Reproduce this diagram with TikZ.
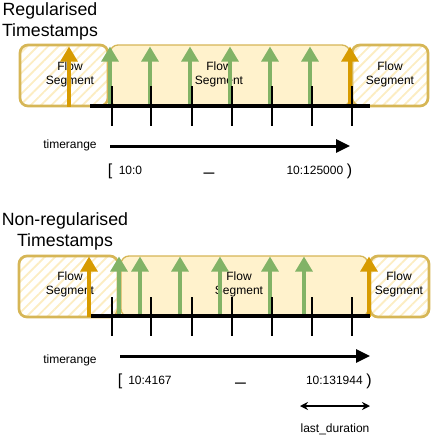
\documentclass[tikz,border=0pt]{standalone}
\usepackage{fontspec}
\setmainfont{Liberation Sans}
\usetikzlibrary{arrows.meta,patterns.meta,positioning}
\definecolor{segF}{HTML}{FFF2CC}
\definecolor{segD}{HTML}{D6B656}
\definecolor{tsG}{HTML}{82B366}
\definecolor{tsO}{HTML}{D79B00}

\begin{document}
\begin{tikzpicture}[x=0.75pt,y=-0.75pt,
  seg/.style={draw=segD,fill=segF,line width=1pt,rounded corners=6pt,inner sep=0pt,minimum height=45.75pt},
  hseg/.style={draw=segD,line width=2pt,rounded corners=6pt,inner sep=0pt,minimum height=45.75pt,
    pattern={Lines[angle=45,distance=5.5pt,line width=1.4pt]},pattern color=segF!92!segD},
  lbl/.style={align=center,inner sep=0pt,font=\fontsize{9}{10.5}\selectfont},
  ttl/.style={align=center,inner sep=0pt,font=\fontsize{13.3}{15.5}\selectfont},
  small/.style={inner sep=0pt,font=\fontsize{9}{10.5}\selectfont},
  brk/.style={inner sep=0pt,font=\fontsize{12}{14}\selectfont},
  under/.style={inner sep=0pt,font=\fontsize{14}{16}\selectfont},
  tsarr/.style={line width=3pt,-{Triangle[length=11.25pt,width=12.5pt]}},
  rng/.style={line width=2.25pt,-{Triangle[length=10.5pt,width=9.75pt]}},
  tick/.style={line width=1.1pt},
  base/.style={line width=3pt}]
\useasboundingbox (0,0) rectangle (432,447);

% --- regularised timestamps
\node[ttl] (t1) at (50,21.3) {Regularised\\Timestamps};
\node[hseg,minimum width=66pt] (a1) at (64,75.5) {};
\node[seg,minimum width=180pt] (a2) at (230,75.5) {};
\node[hseg,minimum width=57pt] (a3) at (390,75.5) {};
\node[lbl] (la1) at (70,74.5) {Flow\\Segment};
\node[lbl] (la2) at (219,74.5) {Flow\\Segment};
\node[lbl] (la3) at (390,74.5) {Flow\\Segment};
\foreach \x in {110,150,190,230,270,310}
  \draw[tsarr,draw=tsG,fill=tsG] (\x,106.5) -- (\x,46.5);
\foreach \x in {69,350}
  \draw[tsarr,draw=tsO,fill=tsO] (\x,106.5) -- (\x,46.5);
\foreach \x in {112,151,192,232,272,312,352}
  \draw[tick] (\x,86) -- (\x,126);
\draw[base] (90,106.3) -- (370,106.3);

\node[small] (r1) at (70,145) {timerange};
\coordinate (r1s) at (110,146);
\coordinate (r1e) at (350,146);
\draw[rng] (r1s) -- (r1e);
\node[brk] (b1l) at (110,171.5) {[};
\node[small,anchor=west] (v1l) at (118.5,170) {10:0};
\node[under] (u1) at (209,172) {\_};
\node[small,anchor=east] (v1r) at (343.5,170) {10:125000};
\node[brk] (b1r) at (349.5,171.5) {)};

% --- non-regularised timestamps
\node[ttl] (t2) at (65,231.3) {Non-regularised\\Timestamps};
\node[hseg,minimum width=74.25pt] (c1) at (68.5,286.5) {};
\node[seg,minimum width=185.25pt] (c2) at (244.5,286.5) {};
\node[hseg,minimum width=44.25pt] (c3) at (399.5,286.5) {};
\node[lbl] (lc1) at (70,284.5) {Flow\\Segment};
\node[lbl] (lc2) at (239,284.5) {Flow\\Segment};
\node[lbl] (lc3) at (399,284.5) {Flow\\Segment};
\foreach \x in {119,140,180,220,270,304}
  \draw[tsarr,draw=tsG,fill=tsG] (\x,316.5) -- (\x,256.5);
\foreach \x in {89,369}
  \draw[tsarr,draw=tsO,fill=tsO] (\x,316.5) -- (\x,256.5);
\foreach \x in {112,151,192,232,272,312,352}
  \draw[tick] (\x,297) -- (\x,336);
\draw[base] (91,316.3) -- (370,316.3);

\node[small] (r2) at (70,360) {timerange};
\coordinate (r2s) at (120,356);
\coordinate (r2e) at (370,356);
\draw[rng] (r2s) -- (r2e);
\node[brk] (b2l) at (120,381.5) {[};
\node[small,anchor=west] (v2l) at (128,380) {10:4167};
\node[under] (u2) at (240.5,382) {\_};
\node[small,anchor=east] (v2r) at (363,380) {10:131944};
\node[brk] (b2r) at (369,381.5) {)};

\coordinate (d1) at (300,406);
\coordinate (d2) at (370,406);
\draw[line width=0.9pt,{Stealth[length=6pt,width=6pt]}-{Stealth[length=6pt,width=6pt]}] (d1) -- (d2);
\node[small] (ld) at (335,429) {last\_duration};
\end{tikzpicture}
\end{document}
